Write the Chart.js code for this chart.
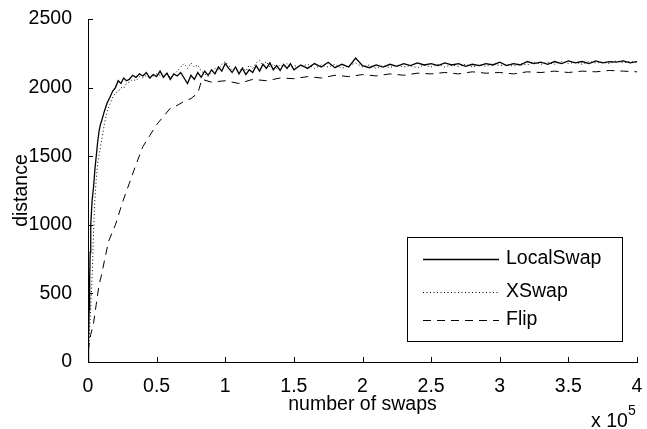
<!DOCTYPE html>
<html>
<head>
<meta charset="utf-8">
<script src="https://cdn.jsdelivr.net/npm/chart.js@4.4.1/dist/chart.umd.min.js"></script>
<style>
  html, body { margin: 0; padding: 0; background: #fff; }
  #wrap { width: 647px; height: 429px; }
</style>
</head>
<body>
<div id="wrap"><canvas id="chart" width="647" height="429"></canvas></div>
<script>
// number of swaps (x 10^5) shared by LocalSwap and XSwap
const swapsX = [
  0, 0.004, 0.008, 0.012, 0.016, 0.02, 0.03, 0.04, 0.05, 0.06, 0.07, 0.08, 0.09, 0.1,
  0.12, 0.14, 0.16, 0.18, 0.2, 0.22, 0.24, 0.26, 0.28,
  0.3, 0.325, 0.35, 0.375, 0.4, 0.425, 0.45, 0.475, 0.5, 0.525, 0.55, 0.575, 0.6, 0.625,
  0.65, 0.675, 0.7, 0.725, 0.75, 0.775, 0.8, 0.825, 0.85, 0.875, 0.9, 0.925, 0.95, 0.975,
  1.0, 1.025, 1.05, 1.075, 1.1, 1.125, 1.15, 1.175, 1.2, 1.225, 1.25, 1.275, 1.3, 1.325,
  1.35, 1.375, 1.4, 1.425, 1.45, 1.475, 1.5,
  1.55, 1.6, 1.65, 1.7, 1.75, 1.8, 1.85, 1.9, 1.95, 2.0, 2.05, 2.1, 2.15, 2.2, 2.25, 2.3,
  2.35, 2.4, 2.45, 2.5, 2.55, 2.6, 2.65, 2.7, 2.75, 2.8, 2.85, 2.9, 2.95, 3.0, 3.05, 3.1,
  3.15, 3.2, 3.25, 3.3, 3.35, 3.4, 3.45, 3.5, 3.55, 3.6, 3.65, 3.7, 3.75, 3.8, 3.85, 3.9,
  3.95, 4.0
];

const localSwap = [
  0, 150, 380, 600, 800, 1000, 1180, 1270, 1400, 1500, 1600, 1680, 1730, 1760,
  1830, 1890, 1930, 1975, 2000, 2050, 2030, 2070, 2050,
  2060, 2090, 2075, 2100, 2085, 2110, 2070, 2095, 2080, 2120, 2075, 2105, 2060, 2100,
  2085, 2110, 2070, 2030, 2090, 2060, 2110, 2075, 2120, 2090, 2130, 2100, 2150, 2120,
  2175, 2140, 2110, 2150, 2100, 2140, 2095, 2130, 2110, 2160, 2120, 2170, 2140, 2180,
  2130, 2160, 2125, 2170, 2140, 2175, 2130,
  2165, 2140, 2175, 2150, 2185, 2145, 2170, 2150, 2215, 2160, 2145, 2165, 2150, 2170, 2155, 2175,
  2160, 2180, 2165, 2175, 2160, 2180, 2165, 2175, 2155, 2170, 2160, 2175, 2165, 2185, 2160, 2175,
  2165, 2190, 2175, 2185, 2170, 2190, 2175, 2195, 2180, 2190, 2175, 2195, 2180, 2190, 2185, 2195,
  2180, 2190
];

const xSwap = [
  0, 80, 160, 250, 330, 400, 620, 930, 1180, 1330, 1440, 1510, 1560, 1620,
  1740, 1830, 1880, 1930, 1960, 1970, 2000, 1995, 2030,
  2040, 2060, 2050, 2080, 2070, 2090, 2065, 2085, 2100, 2090, 2080, 2110, 2070, 2095,
  2120, 2150, 2175, 2140, 2180, 2150, 2165, 2120, 2100, 2080, 2110, 2140, 2130, 2170,
  2190, 2160, 2130, 2145, 2110, 2150, 2120, 2165, 2140, 2180, 2200, 2160, 2190, 2150,
  2170, 2140, 2165, 2150, 2175, 2145, 2160,
  2150, 2170, 2140, 2165, 2150, 2170, 2140, 2160, 2180, 2150, 2165, 2140, 2160, 2145, 2165, 2150,
  2160, 2145, 2165, 2150, 2170, 2150, 2165, 2155, 2170, 2150, 2165, 2155, 2175, 2160, 2170, 2155,
  2175, 2165, 2185, 2170, 2185, 2170, 2190, 2175, 2185, 2170, 2190, 2180, 2185, 2175, 2195, 2180,
  2190, 2185
];

const flipX = [
  0, 0.02, 0.04, 0.06, 0.08, 0.1, 0.12, 0.15, 0.2, 0.25, 0.3, 0.35, 0.4, 0.45, 0.5, 0.55,
  0.6, 0.65, 0.7, 0.75, 0.8, 0.83, 0.9, 1.0, 1.1, 1.2, 1.3, 1.4, 1.5, 1.6, 1.7, 1.8, 1.9,
  2.0, 2.1, 2.2, 2.3, 2.4, 2.5, 2.6, 2.7, 2.8, 2.9, 3.0, 3.1, 3.2, 3.3, 3.4, 3.5, 3.6, 3.7,
  3.8, 3.9, 4.0
];
const flip = [
  80, 200, 280, 420, 560, 640, 740, 880, 1000, 1160, 1300, 1440, 1570, 1650, 1730, 1790,
  1850, 1870, 1900, 1920, 1960, 2060, 2040, 2050, 2030, 2060, 2050, 2070, 2065, 2080, 2070, 2090, 2080,
  2095, 2085, 2100, 2090, 2105, 2100, 2110, 2100, 2115, 2105, 2110, 2100, 2115, 2110, 2120, 2110, 2120, 2115,
  2125, 2120, 2115
];

const xTicks = [0, 0.5, 1, 1.5, 2, 2.5, 3, 3.5, 4];
const yTicks = [0, 500, 1000, 1500, 2000, 2500];

const FONT = 'Arial, "Liberation Sans", sans-serif';
const FS = 19.5;

function pts(xs, ys) {
  return xs.map((x, i) => ({ x: x, y: ys[i] }));
}

// MATLAB-style inward ticks, exponent label and boxed legend
const extras = {
  id: 'extras',
  afterDraw(chart) {
    const ctx = chart.ctx;
    const xs = chart.scales.x, ys = chart.scales.y;
    ctx.save();
    ctx.strokeStyle = '#000';
    ctx.lineWidth = 1;
    ctx.beginPath();
    xTicks.forEach(v => {
      const px = Math.round(xs.getPixelForValue(v)) + 0.5;
      ctx.moveTo(px, ys.bottom);
      ctx.lineTo(px, ys.bottom - 5);
    });
    yTicks.forEach(v => {
      const py = Math.round(ys.getPixelForValue(v)) + 0.5;
      ctx.moveTo(xs.left, py);
      ctx.lineTo(xs.left + 5, py);
    });
    ctx.stroke();

    // x 10^5
    ctx.fillStyle = '#000';
    ctx.textBaseline = 'alphabetic';
    ctx.textAlign = 'left';
    ctx.font = FS + 'px ' + FONT;
    ctx.fillText('x 10', 591, 427);
    ctx.font = '14px ' + FONT;
    ctx.fillText('5', 628, 415);

    // legend
    const bx = 407.5, by = 237.5, bw = 215, bh = 104;
    ctx.fillStyle = '#fff';
    ctx.fillRect(bx, by, bw, bh);
    ctx.strokeRect(bx, by, bw, bh);
    const rows = [259, 292, 320];
    chart.data.datasets.forEach((ds, i) => {
      const y = rows[i] + 0.5;
      ctx.beginPath();
      ctx.setLineDash(ds.borderDash || []);
      ctx.lineWidth = ds.borderWidth;
      ctx.moveTo(423, y);
      ctx.lineTo(499, y);
      ctx.stroke();
      ctx.setLineDash([]);
      ctx.fillStyle = '#000';
      ctx.font = FS + 'px ' + FONT;
      ctx.textBaseline = 'middle';
      ctx.fillText(ds.label, 506, rows[i]);
    });
    ctx.restore();
  }
};

new Chart(document.getElementById('chart'), {
  type: 'line',
  data: {
    datasets: [
      { label: 'LocalSwap', data: pts(swapsX, localSwap), borderColor: '#000', borderWidth: 1.3, borderDash: [] },
      { label: 'XSwap', data: pts(swapsX, xSwap), borderColor: '#000', borderWidth: 1, borderDash: [1, 2.5] },
      { label: 'Flip', data: pts(flipX, flip), borderColor: '#000', borderWidth: 1, borderDash: [8, 6] }
    ]
  },
  options: {
    responsive: false,
    animation: false,
    events: [],
    elements: { point: { radius: 0 }, line: { tension: 0, fill: false } },
    layout: { padding: { left: 0, right: 10, top: 19, bottom: 0 } },
    plugins: { legend: { display: false }, tooltip: { enabled: false } },
    scales: {
      x: {
        type: 'linear', min: 0, max: 4,
        afterBuildTicks: s => { s.ticks = xTicks.map(v => ({ value: v })); },
        ticks: { color: '#000', font: { family: FONT, size: FS }, padding: 5, maxRotation: 0, autoSkip: false, callback: v => String(v) },
        grid: { display: false },
        border: { color: '#000', width: 1 },
        title: { display: true, text: 'number of swaps', color: '#000', font: { family: FONT, size: FS }, padding: { top: 0, bottom: 13 } },
        afterFit: s => { s.height = 67; s.paddingLeft = 0; s.paddingRight = 0; }
      },
      y: {
        type: 'linear', min: 0, max: 2500,
        afterBuildTicks: s => { s.ticks = yTicks.map(v => ({ value: v })); },
        ticks: { color: '#000', font: { family: FONT, size: FS }, padding: 8, autoSkip: false, callback: v => String(v) },
        grid: { display: false },
        border: { color: '#000', width: 1 },
        title: { display: true, text: 'distance', color: '#000', font: { family: FONT, size: FS }, padding: { top: 10, bottom: 0 } },
        afterFit: s => { s.width = 88; s.paddingTop = 0; s.paddingBottom = 0; }
      }
    }
  },
  plugins: [extras]
});
</script>
</body>
</html>
